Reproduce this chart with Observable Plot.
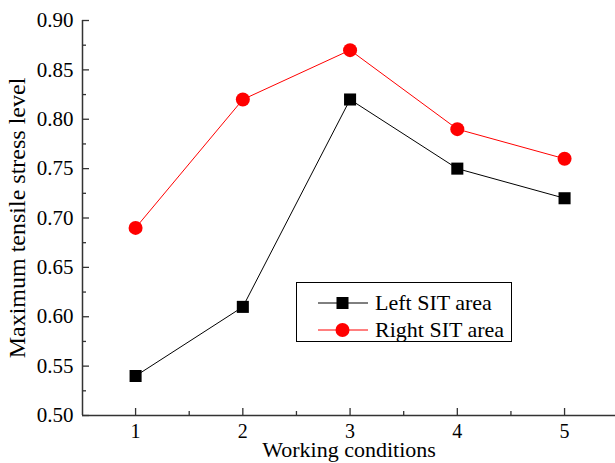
<!DOCTYPE html>
<html><head><meta charset="utf-8">
<script src="https://cdn.jsdelivr.net/npm/d3@7"></script>
<script src="https://cdn.jsdelivr.net/npm/@observablehq/plot@0.6"></script>
<style>
html,body{margin:0;padding:0;background:#fff;}
#wrap{position:relative;width:615px;height:463px;}
#legend{position:absolute;left:296px;top:282px;width:214px;height:58px;border:1px solid #000;background:#fff;font-family:"Liberation Serif","Times New Roman",serif;font-size:22px;color:#000;}
.row{position:absolute;left:0;height:24px;display:flex;align-items:center;white-space:nowrap;}
.row svg{margin-left:21px;margin-right:7px;flex:none;}
</style>
</head><body>
<div id="wrap"></div>
<script>
const conditions = [1, 2, 3, 4, 5];
const leftSIT = [0.54, 0.61, 0.82, 0.75, 0.72];
const rightSIT = [0.69, 0.82, 0.87, 0.79, 0.76];
const xMajor = [1, 2, 3, 4, 5];
const xMinor = [1.5, 2.5, 3.5, 4.5];
const yMajor = [0.50, 0.55, 0.60, 0.65, 0.70, 0.75, 0.80, 0.85, 0.90];
const yMinor = [0.525, 0.575, 0.625, 0.675, 0.725, 0.775, 0.825, 0.875];
const seriesNames = ["Left SIT area", "Right SIT area"];
const seriesColors = ["#000000", "#ff0000"];

const W = 615, H = 463, mL = 82, mT = 20, mB = 48, mR = 0;
const pw = W - mL - mR, ph = H - mT - mB;
const leftData = conditions.map((c, i) => ({x: c, y: leftSIT[i]}));
const rightData = conditions.map((c, i) => ({x: c, y: rightSIT[i]}));
const font = '"Liberation Serif","Times New Roman",serif';

const chart = Plot.plot({
  width: W, height: H,
  marginLeft: mL, marginTop: mT, marginBottom: mB, marginRight: mR,
  style: {fontFamily: font, fontSize: "21px", color: "#000", background: "#fff"},
  x: {domain: [0.505, 5.475]},
  y: {domain: [0.5, 0.9]},
  marks: [
    Plot.axisX(xMajor, {tickSize: 0, tickPadding: 8, fontSize: 20, tickFormat: d => String(d), label: "Working conditions", labelAnchor: "center", labelOffset: 41, labelArrow: "none"}),
    Plot.axisY(yMajor, {tickSize: 0, tickPadding: 9, fontSize: 21, tickFormat: d3.format(".2f"), label: "Maximum tensile stress level", labelAnchor: "center", labelOffset: 75, labelArrow: "none"}),
    Plot.ruleX(xMajor, {x: d => d, insetTop: ph - 7, stroke: "#333", strokeWidth: 1.3}),
    Plot.ruleX(xMinor, {x: d => d, insetTop: ph - 4, stroke: "#333", strokeWidth: 1.3}),
    Plot.ruleY(yMajor, {y: d => d, insetRight: pw - 7, stroke: "#333", strokeWidth: 1.3}),
    Plot.ruleY(yMinor, {y: d => d, insetRight: pw - 4, stroke: "#333", strokeWidth: 1.3}),
    Plot.ruleX([0.505], {stroke: "#333", strokeWidth: 1.5}),
    Plot.ruleY([0.5], {stroke: "#333", strokeWidth: 1.5}),
    Plot.line(leftData, {x: "x", y: "y", stroke: seriesColors[0], strokeWidth: 1}),
    Plot.line(rightData, {x: "x", y: "y", stroke: seriesColors[1], strokeWidth: 1}),
    Plot.dot(leftData, {x: "x", y: "y", symbol: "square", r: 6.8, fill: seriesColors[0], stroke: "none"}),
    Plot.dot(rightData, {x: "x", y: "y", symbol: "circle", r: 7, fill: seriesColors[1], stroke: "none"})
  ]
});
chart.querySelectorAll("[aria-label='x-axis label'] text").forEach(t => t.setAttribute("font-size", "22"));
chart.querySelectorAll("[aria-label='y-axis label'] text").forEach(t => t.setAttribute("font-size", "24"));
const wrap = document.getElementById("wrap");
wrap.appendChild(chart);

const legend = document.createElement("div");
legend.id = "legend";
const markers = [
  '<rect x="18.5" y="6" width="12" height="12" fill="#000"/>',
  '<circle cx="24.5" cy="12" r="7" fill="#ff0000"/>'
];
seriesNames.forEach((name, i) => {
  const row = document.createElement("div");
  row.className = "row";
  row.style.top = (8 + i * 27) + "px";
  row.innerHTML = '<svg width="50" height="24"><line x1="0" y1="12" x2="50" y2="12" stroke="' + seriesColors[i] + '" stroke-width="1"/>' + markers[i] + '</svg><span>' + name + '</span>';
  legend.appendChild(row);
});
wrap.appendChild(legend);
</script>
</body></html>
